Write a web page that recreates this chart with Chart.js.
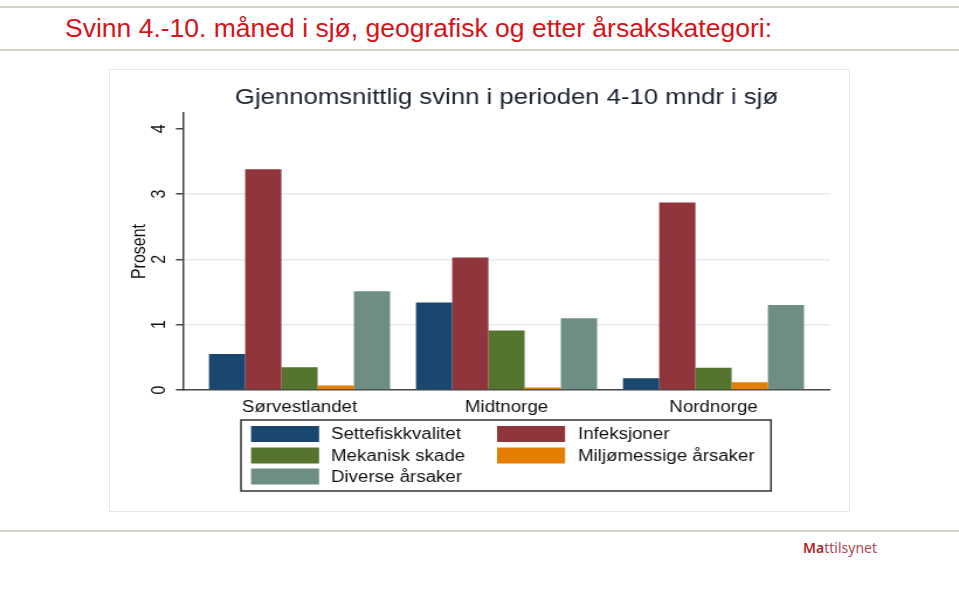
<!DOCTYPE html>
<html>
<head>
<meta charset="utf-8">
<script src="https://cdn.jsdelivr.net/npm/chart.js@4"></script>
<style>
html,body{margin:0;padding:0;background:#fff;width:959px;height:604px;overflow:hidden;position:relative;font-family:"Liberation Sans",Arial,sans-serif}
.hl{position:absolute;left:0;width:959px;height:2px;background:#d2d2c8}
#head{position:absolute;left:65px;top:13px;font-size:26.5px;line-height:30px;color:#d4141a;white-space:nowrap}
#brand{position:absolute;left:803px;top:539px;font-family:"Noto Sans",sans-serif;font-size:14px;line-height:18px;color:#b04a55;white-space:nowrap}
#brand b{color:#b51f2c;font-weight:600}
#frame{position:absolute;left:109px;top:69px;width:741px;height:443px;box-sizing:border-box;border:1px solid #e3e7ea}
#wrap{position:absolute;left:110px;top:70px;width:739px;height:441px}
</style>
</head>
<body>
<div class="hl" style="top:6px"></div>
<div class="hl" style="top:49px"></div>
<div class="hl" style="top:530px"></div>
<div id="head">Svinn 4.-10. måned i sjø, geografisk og etter årsakskategori:</div>
<div id="brand"><b>Ma</b>ttilsynet</div>
<div id="frame"></div>
<div id="wrap"><canvas id="c" width="632" height="441" style="width:739px;height:441px;display:block"></canvas></div>
<script>
// ---- data ----
const categories = ['Sørvestlandet', 'Midtnorge', 'Nordnorge'];
const seriesNames = ['Settefiskkvalitet', 'Infeksjoner', 'Mekanisk skade', 'Miljømessige årsaker', 'Diverse årsaker'];
const settefiskkvalitet = [0.55, 1.34, 0.18];
const infeksjoner = [3.38, 2.03, 2.87];
const mekaniskSkade = [0.35, 0.91, 0.34];
const miljomessige = [0.07, 0.04, 0.12];
const diverse = [1.51, 1.10, 1.30];
const yTicks = [0, 1, 2, 3, 4];
const chartTitle = 'Gjennomsnittlig svinn i perioden 4-10 mndr i sjø';
const yTitle = 'Prosent';

// ---- styles ----
const colors = ['#1a476f', '#90353b', '#55752f', '#e37e00', '#6e8e84'];
const FONT = '"Liberation Sans", Arial, sans-serif';
const seriesValues = [settefiskkvalitet, infeksjoner, mekaniskSkade, miljomessige, diverse];

const titlePlugin = {
  id: 'titlePlugin',
  afterDraw(chart) {
    const ctx = chart.ctx, a = chart.chartArea;
    ctx.save();
    ctx.font = '22px ' + FONT;
    ctx.fillStyle = '#1c2230';
    ctx.textAlign = 'center';
    ctx.textBaseline = 'middle';
    ctx.fillText(chartTitle, (a.left + a.right) / 2, 28);
    ctx.restore();
  }
};

const yLabelPlugin = {
  id: 'yLabelPlugin',
  afterDraw(chart) {
    const ctx = chart.ctx, ys = chart.scales.y;
    ctx.save();
    ctx.font = '16px ' + FONT;
    ctx.fillStyle = '#111';
    ctx.textAlign = 'center';
    ctx.textBaseline = 'middle';
    yTicks.forEach(v => {
      ctx.save();
      ctx.translate(43, ys.getPixelForValue(v));
      ctx.rotate(-Math.PI / 2);
      ctx.fillText(String(v), 0, 0);
      ctx.restore();
    });
    ctx.restore();
  }
};

const legendPlugin = {
  id: 'legendPlugin',
  afterDraw(chart) {
    const ctx = chart.ctx;
    ctx.save();
    ctx.strokeStyle = '#333';
    ctx.lineWidth = 1.5;
    ctx.strokeRect(112, 350, 453.3, 71);
    const rowsY = [364, 385.5, 406.5];
    ctx.font = '16px ' + FONT;
    ctx.textAlign = 'left';
    ctx.textBaseline = 'middle';
    chart.data.datasets.forEach((ds, i) => {
      const row = Math.floor(i / 2), col = i % 2;
      const sx = col ? 331 : 120.6;
      const tx = col ? 400.2 : 189;
      const cy = rowsY[row];
      ctx.fillStyle = ds.backgroundColor;
      ctx.fillRect(sx, cy - 8, 58.2, 16);
      ctx.fillStyle = '#111';
      ctx.fillText(ds.label, tx, cy + 1);
    });
    ctx.restore();
  }
};

new Chart(document.getElementById('c'), {
  type: 'bar',
  data: {
    labels: categories,
    datasets: seriesNames.map((name, i) => ({
      label: name,
      data: seriesValues[i],
      backgroundColor: colors[i],
      borderWidth: 0,
      categoryPercentage: 0.875,
      barPercentage: 1
    }))
  },
  options: {
    responsive: false,
    devicePixelRatio: 1,
    animation: false,
    layout: { padding: { left: 0, right: 16.2, top: 43, bottom: 91 } },
    plugins: { legend: { display: false }, tooltip: { enabled: false }, title: { display: false } },
    scales: {
      x: {
        type: 'category',
        offset: true,
        grid: { display: false },
        border: { display: true, color: '#444', width: 1.5 },
        ticks: { font: { size: 16, family: FONT }, color: '#111', padding: 0, autoSkip: false, maxRotation: 0 },
        afterFit(s) { s.height = 30; },
        afterBuildTicks(s) {
          s.ticks = categories.map((c, i) => ({ value: i }));
          s._startValue = -0.563;
          s._valueRange = 3.126;
        }
      },
      y: {
        type: 'linear',
        min: 0,
        max: 4.24,
        border: { display: true, color: '#444', width: 1.5 },
        grid: {
          color: ctx => (ctx.tick && ctx.tick.value >= 1 && ctx.tick.value <= 3) ? '#e6eaed' : 'rgba(0,0,0,0)',
          lineWidth: 1.5,
          drawTicks: true,
          tickLength: 6,
          tickColor: '#444',
          tickWidth: 1.5
        },
        ticks: { display: false },
        title: { display: true, text: yTitle, font: { size: 16, family: FONT }, color: '#111', padding: { top: 16, bottom: 0 } },
        afterFit(s) { s.width = 62.4; },
        afterBuildTicks(s) { s.ticks = yTicks.map(v => ({ value: v })); }
      }
    }
  },
  plugins: [titlePlugin, yLabelPlugin, legendPlugin]
});
</script>
</body>
</html>
